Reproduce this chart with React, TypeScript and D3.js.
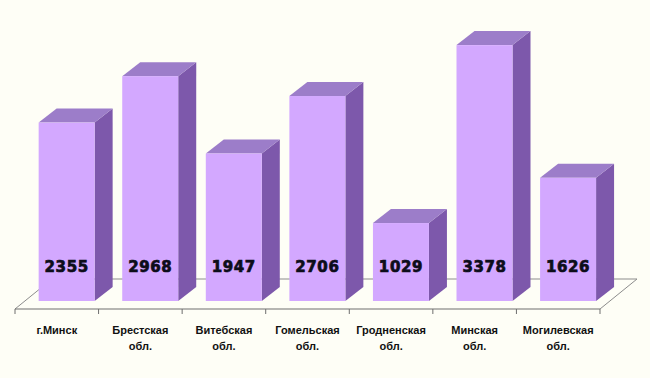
import React from "react";
import * as d3 from "d3";

const categories = ["г.Минск", "Брестская обл.", "Витебская обл.", "Гомельская обл.", "Гродненская обл.", "Минская обл.", "Могилевская обл."];
const labelLines = [["г.Минск"], ["Брестская", "обл."], ["Витебская", "обл."], ["Гомельская", "обл."], ["Гродненская", "обл."], ["Минская", "обл."], ["Могилевская", "обл."]];
const values = [2355, 2968, 1947, 2706, 1029, 3378, 1626];

const W = 650, H = 378;
const floorLeft = 15, floorRight = 600, floorFrontY = 309;
const floorDX = 37, floorDY = -30;
const frontFrac = 8 / 30;
const barDX = 18, barDY = -14;

export default function App() {
  const x = d3.scaleBand<string>().domain(categories).range([floorLeft, floorRight]).paddingInner(0.33).paddingOuter(0.165);
  const outer = d3.scaleBand<string>().domain(categories).range([floorLeft, floorRight]);
  const baseY = floorFrontY + floorDY * frontFrac;
  const shiftX = floorDX * frontFrac;
  const y = d3.scaleLinear().domain([0, 4000]).range([baseY, baseY - 303]);

  const line = (pts: [number, number][]) => d3.line()(pts) as string;

  return (
    <div style={{ position: "absolute", left: 0, top: 0 }}>
      <svg width={W} height={H} style={{ display: "block" }}>
        <rect width={W} height={H} fill="#FEFEF6" />
        {/* floor */}
        <path
          d={line([[floorLeft, floorFrontY], [floorLeft + floorDX, floorFrontY + floorDY], [floorRight + floorDX, floorFrontY + floorDY], [floorRight, floorFrontY]])}
          fill="none" stroke="#8c8c8c" strokeWidth={1}
        />
        <line x1={floorLeft} x2={floorRight} y1={floorFrontY} y2={floorFrontY} stroke="#6e6e6e" strokeWidth={1} />
        {categories.map((c, i) => (
          <line key={"t" + i} x1={outer(c)!} x2={outer(c)!} y1={floorFrontY} y2={floorFrontY + 5} stroke="#6e6e6e" />
        ))}
        <line x1={floorRight} x2={floorRight} y1={floorFrontY} y2={floorFrontY + 5} stroke="#6e6e6e" />
        {/* bars */}
        {categories.map((c, i) => {
          const x0 = x(c)! + shiftX;
          const x1 = x0 + x.bandwidth();
          const yt = y(values[i]);
          const yb = y(0);
          return (
            <g key={c}>
              <path d={line([[x1, yb], [x1, yt], [x1 + barDX, yt + barDY], [x1 + barDX, yb + barDY]]) + "Z"} fill="#7D58AB" />
              <path d={line([[x0, yt], [x0 + barDX, yt + barDY], [x1 + barDX, yt + barDY], [x1, yt]]) + "Z"} fill="#9C7DC9" />
              <rect x={x0} y={yt} width={x1 - x0} height={yb - yt} fill="#D3A8FF" />
              <text x={(x0 + x1) / 2} y={yb - 29} textAnchor="middle" fontFamily="DejaVu Sans" fontWeight="bold" fontSize={15} letterSpacing={0.6} fill="#0d0d1a" stroke="#0d0d1a" strokeWidth={0.7}>
                {values[i]}
              </text>
            </g>
          );
        })}
        {/* category labels */}
        {categories.map((c, i) => (
          <text key={"l" + i} textAnchor="middle" fontFamily="Liberation Sans, Arial" fontWeight="bold" fontSize={11} fill="#111111">
            {labelLines[i].map((s, j) => (
              <tspan key={j} x={outer(c)! + outer.bandwidth() / 2} y={334 + j * 16}>{s}</tspan>
            ))}
          </text>
        ))}
      </svg>
    </div>
  );
}
